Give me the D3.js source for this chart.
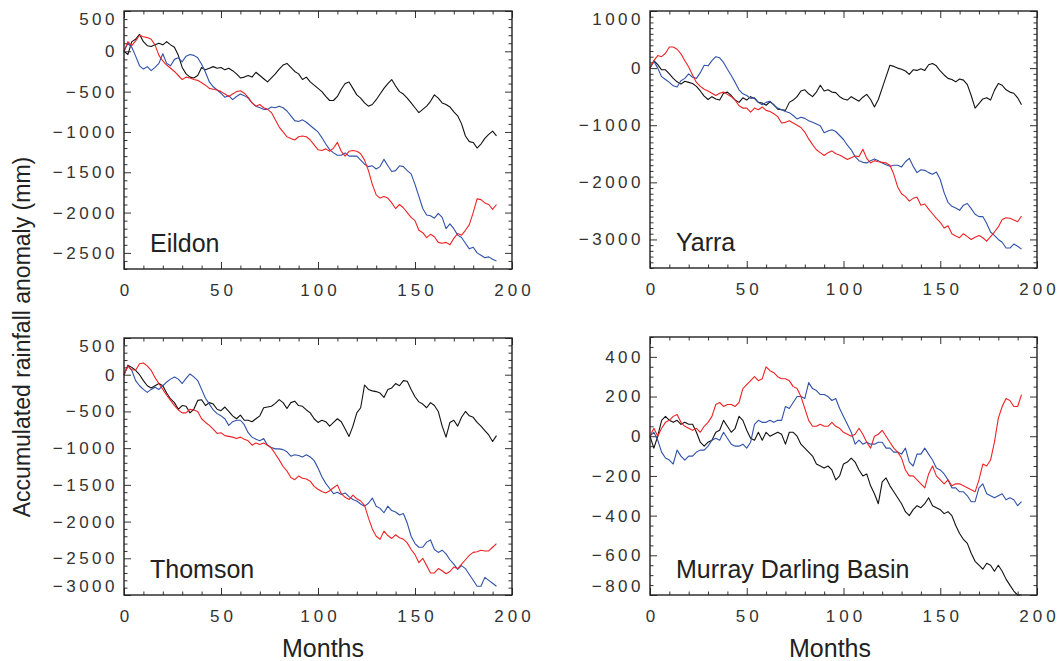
<!DOCTYPE html>
<html><head><meta charset="utf-8">
<script src="https://cdn.jsdelivr.net/npm/d3@7"></script>
<style>
body{margin:0;background:#fff}
svg{display:block}
text{font-family:"Liberation Sans",Arial,Helvetica,sans-serif}
</style>
</head><body>
<svg id="chart" width="1060" height="661"></svg>
<script>
// ---------- DATA ----------
const months = [0,2,4,6,8,10,12,14,16,18,20,22,24,26,28,30,32,34,36,38,40,42,44,46,48,50,52,54,56,58,60,62,64,66,68,70,72,74,76,78,80,82,84,86,88,90,92,94,96,98,100,102,104,106,108,110,112,114,116,118,120,122,124,126,128,130,132,134,136,138,140,142,144,146,148,150,152,154,156,158,160,162,164,166,168,170,172,174,176,178,180,182,184,186,188,190,192];

const panelNames = ["Eildon", "Yarra", "Thomson", "Murray Darling Basin"];
const xTickValues = [0, 50, 100, 150, 200];
const xAxisTitle = "Months";
const yAxisTitle = "Accumulated rainfall anomaly (mm)";

const eildonBlack = [
 0,-40,120,150,210,120,70,60,80,100,
 80,120,80,50,-50,-200,-280,-320,-330,-300,
 -200,-230,-210,-190,-210,-200,-230,-210,-240,-280,
 -330,-320,-300,-320,-260,-300,-340,-380,-330,-280,
 -220,-170,-150,-200,-250,-280,-350,-320,-380,-420,
 -460,-500,-560,-610,-610,-560,-470,-400,-380,-460,
 -540,-580,-640,-680,-660,-600,-530,-460,-400,-350,
 -430,-500,-530,-580,-640,-700,-760,-720,-680,-620,
 -540,-580,-640,-660,-690,-750,-800,-900,-1050,-1120,
 -1130,-1200,-1150,-1080,-1030,-990,-1050];
const eildonBlue = [
 0,100,50,-60,-180,-220,-190,-240,-200,-150,
 -30,-150,-180,-100,-80,-130,-60,-40,-50,-80,
 -160,-260,-380,-440,-480,-520,-570,-550,-600,-560,
 -530,-550,-580,-640,-680,-700,-720,-720,-690,-700,
 -680,-700,-740,-800,-860,-870,-850,-880,-920,-960,
 -1000,-1070,-1150,-1220,-1260,-1290,-1290,-1260,-1300,-1300,
 -1300,-1350,-1400,-1430,-1420,-1460,-1430,-1340,-1420,-1490,
 -1480,-1420,-1430,-1480,-1520,-1650,-1800,-1950,-2030,-2040,
 -2070,-2010,-2060,-2200,-2140,-2200,-2280,-2310,-2380,-2450,
 -2430,-2500,-2530,-2560,-2550,-2580,-2600];
const eildonRed = [
 0,120,70,130,200,180,170,150,80,-50,
 -120,-170,-210,-250,-300,-350,-320,-330,-350,-360,
 -390,-420,-460,-470,-480,-500,-530,-560,-530,-500,
 -490,-520,-570,-640,-680,-660,-700,-720,-760,-850,
 -940,-1000,-1060,-1080,-1100,-1060,-1050,-1060,-1100,-1160,
 -1220,-1230,-1210,-1240,-1200,-1130,-1240,-1300,-1240,-1230,
 -1240,-1270,-1350,-1480,-1650,-1780,-1820,-1800,-1820,-1880,
 -1950,-1900,-1940,-2000,-2060,-2100,-2220,-2250,-2310,-2270,
 -2300,-2370,-2380,-2370,-2400,-2320,-2260,-2280,-2220,-2150,
 -2000,-1830,-1840,-1880,-1900,-1960,-1900];

const yarraBlack = [
 0,130,60,-30,-30,-100,-180,-240,-280,-230,
 -250,-270,-320,-400,-490,-550,-500,-540,-560,-440,
 -420,-480,-560,-600,-520,-560,-500,-530,-600,-610,
 -650,-590,-640,-720,-730,-740,-600,-560,-500,-400,
 -380,-450,-500,-420,-300,-400,-380,-420,-430,-500,
 -540,-560,-500,-540,-580,-510,-460,-550,-680,-550,
 -350,-150,50,30,0,-20,-50,-110,-30,-40,
 -10,-40,60,80,40,-50,-120,-180,-200,-240,
 -190,-210,-290,-480,-700,-620,-540,-520,-560,-390,
 -270,-300,-380,-420,-440,-520,-640];
const yarraBlue = [
 0,120,0,-150,-200,-250,-310,-330,-220,-180,
 -100,-160,-180,-80,50,40,130,200,180,100,
 -20,-130,-250,-380,-450,-480,-530,-520,-600,-640,
 -600,-580,-650,-700,-730,-760,-780,-830,-890,-860,
 -880,-920,-950,-980,-1010,-1130,-1100,-1080,-1110,-1180,
 -1250,-1350,-1430,-1550,-1620,-1650,-1660,-1620,-1590,-1620,
 -1660,-1690,-1720,-1700,-1700,-1730,-1640,-1580,-1720,-1830,
 -1780,-1790,-1830,-1860,-1820,-1950,-2180,-2350,-2420,-2450,
 -2490,-2400,-2370,-2460,-2560,-2600,-2600,-2720,-2870,-2930,
 -3000,-3050,-3150,-3150,-3080,-3120,-3170];
const yarraRed = [
 0,130,220,200,260,370,370,330,250,130,
 20,-120,-250,-320,-370,-400,-440,-480,-440,-420,
 -460,-500,-560,-660,-700,-700,-770,-700,-730,-680,
 -740,-760,-800,-850,-960,-950,-920,-960,-1000,-1040,
 -1120,-1240,-1340,-1430,-1480,-1530,-1480,-1450,-1500,-1520,
 -1560,-1600,-1570,-1540,-1550,-1420,-1580,-1660,-1620,-1640,
 -1650,-1660,-1700,-1860,-2080,-2200,-2250,-2330,-2280,-2260,
 -2400,-2380,-2470,-2550,-2630,-2700,-2800,-2760,-2900,-2940,
 -2970,-2900,-2950,-3000,-2960,-2930,-2970,-3030,-2950,-2870,
 -2780,-2650,-2620,-2630,-2660,-2690,-2590];

const thomsonBlack = [
 0,130,100,60,0,-80,-150,-180,-150,-120,
 -150,-250,-330,-380,-470,-420,-430,-520,-470,-350,
 -340,-420,-380,-400,-470,-490,-440,-500,-560,-600,
 -550,-620,-620,-640,-600,-560,-450,-440,-430,-390,
 -340,-380,-460,-380,-360,-420,-430,-480,-520,-600,
 -650,-620,-640,-700,-650,-600,-640,-740,-840,-700,
 -520,-450,-140,-200,-220,-230,-250,-310,-200,-180,
 -120,-150,-80,-90,-200,-300,-370,-400,-450,-380,
 -420,-500,-700,-850,-650,-620,-700,-580,-500,-560,
 -580,-650,-700,-760,-820,-910,-830];
const thomsonBlue = [
 0,120,60,-80,-150,-200,-240,-200,-170,-200,
 -150,-100,-60,-30,-60,-120,-50,10,-30,-80,
 -200,-320,-400,-480,-530,-560,-600,-690,-640,-620,
 -620,-680,-790,-850,-880,-900,-870,-960,-990,-1010,
 -1010,-1020,-1050,-1110,-1090,-1100,-1120,-1090,-1120,-1170,
 -1270,-1390,-1480,-1550,-1620,-1600,-1630,-1610,-1660,-1700,
 -1720,-1760,-1790,-1750,-1680,-1790,-1820,-1880,-1790,-1850,
 -1870,-1910,-1890,-2020,-2200,-2300,-2350,-2350,-2280,-2250,
 -2380,-2420,-2390,-2440,-2520,-2580,-2650,-2600,-2640,-2720,
 -2800,-2880,-2880,-2760,-2800,-2840,-2880];
const thomsonRed = [
 0,120,70,60,150,160,120,60,-40,-120,
 -200,-280,-350,-420,-480,-520,-520,-470,-480,-500,
 -600,-650,-690,-740,-800,-790,-830,-840,-850,-870,
 -850,-880,-900,-960,-930,-950,-930,-960,-1000,-1080,
 -1160,-1250,-1310,-1400,-1430,-1380,-1410,-1420,-1450,-1520,
 -1560,-1590,-1610,-1580,-1540,-1500,-1620,-1670,-1700,-1640,
 -1690,-1720,-1780,-1950,-2100,-2200,-2240,-2130,-2190,-2230,
 -2180,-2220,-2240,-2290,-2380,-2450,-2560,-2500,-2600,-2700,
 -2700,-2640,-2670,-2710,-2680,-2620,-2640,-2580,-2520,-2460,
 -2420,-2410,-2390,-2400,-2400,-2350,-2300];

const mdbBlack = [
 0,-60,0,80,100,80,70,80,60,70,
 60,60,20,-30,-50,-30,-20,20,30,80,
 50,20,40,100,80,30,-10,-20,20,-20,
 20,0,10,20,10,-40,20,20,0,-40,
 -60,-80,-100,-140,-150,-160,-150,-170,-220,-200,
 -140,-130,-110,-130,-170,-200,-190,-250,-290,-340,
 -230,-210,-250,-280,-310,-340,-380,-400,-370,-350,
 -360,-340,-310,-350,-360,-370,-390,-380,-400,-450,
 -490,-520,-540,-590,-630,-650,-670,-640,-650,-680,
 -650,-680,-720,-750,-780,-800,-800];
const mdbBlue = [
 0,20,-20,-80,-110,-120,-140,-70,-100,-120,
 -100,-100,-80,-70,-70,-50,-20,-10,-20,20,
 -10,-40,-50,-50,-40,-60,-30,60,80,70,
 70,80,70,80,80,150,140,170,200,200,
 190,270,240,230,210,210,200,180,190,140,
 100,60,20,-40,-20,-40,-30,-40,-40,-30,
 -30,-60,-60,-80,-80,-90,-60,-130,-150,-90,
 -90,-60,-90,-120,-160,-170,-190,-220,-260,-260,
 -280,-280,-300,-330,-330,-260,-240,-290,-300,-310,
 -300,-290,-320,-310,-320,-350,-330];
const mdbRed = [
 0,40,0,40,70,80,100,110,70,50,
 40,30,40,20,50,70,100,160,170,150,
 160,160,150,170,240,260,280,300,280,290,
 350,330,320,300,290,290,280,250,240,200,
 140,80,50,50,60,50,50,70,50,40,
 20,10,0,10,40,10,-30,-60,0,10,
 30,0,-30,-60,-80,-110,-170,-200,-200,-220,
 -240,-260,-190,-150,-200,-220,-240,-220,-250,-240,
 -240,-250,-260,-270,-280,-220,-140,-150,-120,-30,
 90,150,190,180,150,150,210];

const yTicksEildon = [500, 0, -500, -1000, -1500, -2000, -2500];
const yTicksYarra = [1000, 0, -1000, -2000, -3000];
const yTicksThomson = [500, 0, -500, -1000, -1500, -2000, -2500, -3000];
const yTicksMdb = [400, 200, 0, -200, -400, -600, -800];
const yDomains = [[-2700, 500], [-3500, 1000], [-3000, 500], [-800, 500]];
const yMinorSteps = [100, 100, 100, 50];

// ---------- LAYOUT ----------
const panels = [
  {name: panelNames[0], series: [eildonBlack, eildonBlue, eildonRed], ticks: yTicksEildon, left:124, right:512, top:11, bottom:269},
  {name: panelNames[1], series: [yarraBlack, yarraBlue, yarraRed], ticks: yTicksYarra, left:650, right:1037, top:11, bottom:268},
  {name: panelNames[2], series: [thomsonBlack, thomsonBlue, thomsonRed], ticks: yTicksThomson, left:124, right:512, top:338, bottom:595},
  {name: panelNames[3], series: [mdbBlack, mdbBlue, mdbRed], ticks: yTicksMdb, left:650, right:1037, top:337, bottom:595}
];
const colors = ["#111111", "#2f51a9", "#ee2325"];
const fmt = v => v < 0 ? "\u2212" + Math.abs(v) : String(v);

const svg = d3.select("#chart");

panels.forEach((p, pi) => {
  const dom = yDomains[pi];
  const x = d3.scaleLinear().domain([0, 200]).range([p.left, p.right]);
  const y = d3.scaleLinear().domain(dom).range([p.bottom, p.top]);
  const g = svg.append("g");

  const xMinor = d3.range(0, 201, 10).filter(v => v % 50 !== 0);
  const yMinor = d3.range(Math.ceil(dom[0] / yMinorSteps[pi]) * yMinorSteps[pi], dom[1] + 1, yMinorSteps[pi]).filter(v => !p.ticks.includes(v));

  function axis(gen, tr, vals, size, labels) {
    const a = gen.tickValues(vals).tickSize(size).tickSizeOuter(0);
    if (!labels) a.tickFormat("");
    const ag = g.append("g").attr("transform", tr).call(a);
    ag.select(".domain").remove();
    ag.selectAll("line").attr("stroke", "#333").attr("stroke-width", 1);
    return ag;
  }
  // minor ticks
  axis(d3.axisBottom(x), `translate(0,${p.bottom})`, xMinor, -3.5, false);
  axis(d3.axisTop(x), `translate(0,${p.top})`, xMinor, -3.5, false);
  axis(d3.axisLeft(y), `translate(${p.left},0)`, yMinor, -3.5, false);
  axis(d3.axisRight(y), `translate(${p.right},0)`, yMinor, -3.5, false);
  // major ticks
  const xb = axis(d3.axisBottom(x).tickPadding(15).tickFormat(fmt), `translate(0,${p.bottom})`, xTickValues, -7, true);
  axis(d3.axisTop(x), `translate(0,${p.top})`, xTickValues, -7, false);
  const yl = axis(d3.axisLeft(y).tickPadding(6).tickFormat(fmt), `translate(${p.left},0)`, p.ticks, -7, true);
  axis(d3.axisRight(y), `translate(${p.right},0)`, p.ticks, -7, false);

  xb.selectAll("text").attr("font-size", 17).attr("fill", "#333")
    .style("letter-spacing", "4px").attr("dx", 2)
    .attr("font-family", "Liberation Sans, Arial, sans-serif");
  yl.selectAll("text").attr("font-size", 17).attr("fill", "#333")
    .style("letter-spacing", "3.5px")
    .attr("font-family", "Liberation Sans, Arial, sans-serif")
    .attr("dy", d => d === dom[1] ? "0.82em" : (d === dom[0] ? "-0.18em" : "0.32em"));

  // series
  const line = d3.line().x((d, i) => x(months[i])).y(d => y(d));
  p.series.forEach((s, si) => {
    g.append("path").datum(s).attr("d", line)
      .attr("fill", "none").attr("stroke", colors[si])
      .attr("stroke-width", 1.1).attr("stroke-linejoin", "round");
  });

  // frame
  g.append("rect").attr("x", p.left).attr("y", p.top)
    .attr("width", p.right - p.left).attr("height", p.bottom - p.top)
    .attr("fill", "none").attr("stroke", "#222").attr("stroke-width", 1.4);

  // panel label
  g.append("text").attr("x", p.left + 26).attr("y", p.bottom - 17)
    .attr("font-size", 25).attr("fill", "#222").text(p.name);
});

// axis titles
svg.append("text").attr("transform", "translate(30,337) rotate(-90)")
  .attr("text-anchor", "middle").attr("font-size", 23).attr("fill", "#222").text(yAxisTitle);
svg.append("text").attr("x", 323).attr("y", 657).attr("text-anchor", "middle")
  .attr("font-size", 25).attr("fill", "#222").text(xAxisTitle);
svg.append("text").attr("x", 830).attr("y", 657).attr("text-anchor", "middle")
  .attr("font-size", 25).attr("fill", "#222").text(xAxisTitle);
</script>
</body></html>
